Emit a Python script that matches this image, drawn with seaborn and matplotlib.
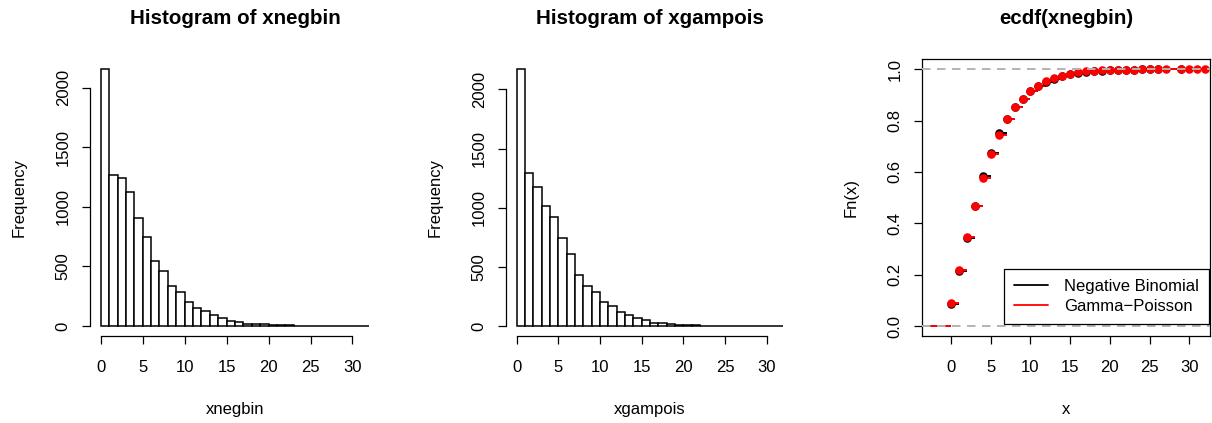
import numpy as np
import pandas as pd
import matplotlib
matplotlib.use("Agg")
import matplotlib.pyplot as plt
import seaborn as sns

# -----------------------------
# Data
# -----------------------------
bin_mids = np.arange(0, 32) + 0.5

negbin_counts = [2155, 1270, 1243, 1129, 903, 745, 548, 461, 334, 286,
                 200, 153, 125, 89, 70, 39, 36, 19, 17, 14,
                 8, 6, 5, 3, 2, 2, 1, 0, 4, 1, 0, 0]
gampois_counts = [2170, 1293, 1173, 1012, 920, 742, 609, 434, 336, 284,
                  200, 167, 120, 97, 70, 50, 28, 28, 17, 8,
                  8, 11, 4, 3, 2, 1, 1, 3, 0, 1, 1, 1]

# ecdf knots and values
negbin_knots = list(range(0, 27)) + [29]
negbin_F = [0.087, 0.215, 0.342, 0.466, 0.584, 0.675, 0.751, 0.806, 0.852, 0.886,
            0.916, 0.936, 0.952, 0.964, 0.974, 0.982, 0.987, 0.991, 0.993, 0.995,
            0.997, 0.998, 0.9985, 0.999, 0.9993, 0.9995, 0.9996, 1.0]
gampois_knots = list(range(0, 28)) + [29, 30, 31, 32]
gampois_F = [0.088, 0.218, 0.347, 0.468, 0.575, 0.669, 0.743, 0.805, 0.852, 0.886,
             0.917, 0.936, 0.953, 0.965, 0.975, 0.983, 0.988, 0.992, 0.994, 0.996,
             0.997, 0.998, 0.9985, 0.999, 0.9993, 0.9995, 0.9996, 0.9997, 0.9998,
             0.9999, 0.99995, 1.0]

sns.set_style("white")
plt.rcParams["font.family"] = ["Liberation Sans", "DejaVu Sans"]
plt.rcParams["text.color"] = "black"
plt.rcParams["axes.labelcolor"] = "black"

W, H = 1212, 423
fig = plt.figure(figsize=(W / 100, H / 100), dpi=100)

bottom = (H - 336.3) / H
height = 277.3 / H
ax1 = fig.add_axes([90 / W, bottom, 290 / W, height])
ax2 = fig.add_axes([506 / W, bottom, 288 / W, height])
ax3 = fig.add_axes([922 / W, bottom, 288 / W, height])

FS = 12
TICK_LEN = 5.8


def r_axes(ax, xb, yb):
    ax.tick_params(axis="both", direction="out", length=TICK_LEN, width=0.9,
                   labelsize=FS, colors="black", bottom=True, left=True)
    ax.tick_params(axis="x", pad=11)
    ax.tick_params(axis="y", pad=8, labelrotation=90)
    for lab in ax.get_yticklabels():
        lab.set_va("center")
    for s in ax.spines.values():
        s.set_color("black")
        s.set_linewidth(0.9)
    if xb is not None:
        ax.spines["bottom"].set_bounds(*xb)
        ax.spines["left"].set_bounds(*yb)
        ax.spines["top"].set_visible(False)
        ax.spines["right"].set_visible(False)


# -----------------------------
# Histograms
# -----------------------------
for ax, counts, name in [(ax1, negbin_counts, "xnegbin"), (ax2, gampois_counts, "xgampois")]:
    df = pd.DataFrame({"mid": bin_mids, "count": counts})
    sns.histplot(data=df, x="mid", weights="count", binwidth=1, binrange=(0, 32), ax=ax,
                 color="white", edgecolor="black", linewidth=1.1, alpha=1)
    ymax = max(counts)
    ax.set_xlim(-0.04 * 32, 32 * 1.04)
    ax.set_ylim(-0.04 * ymax, ymax * 1.04)
    ax.set_xticks(range(0, 31, 5))
    ax.set_yticks(range(0, 2001, 500))
    ax.set_title(f"Histogram of {name}", fontsize=14.8, fontweight="bold", pad=25)
    ax.set_xlabel(name, fontsize=FS, labelpad=20)
    ax.set_ylabel("Frequency", fontsize=FS, labelpad=21)
    r_axes(ax, (0, 30), (0, 2000))

# -----------------------------
# ECDF panel
# -----------------------------
xmin, xmax = -3.65, 32.6


def draw_ecdf(ax, knots, F, col):
    xs = [xmin] + list(knots)
    xe = list(knots) + [xmax]
    ys = [0.0] + list(F)
    ax.hlines(ys, xs, xe, colors=col, linewidth=1.4, zorder=3)
    sns.scatterplot(x=knots, y=F, ax=ax, color=col, s=38,
                    edgecolor=col, linewidth=0, zorder=4)
    ax.axhline(0, color="#b3b3b3", linestyle=(0, (5, 4)), linewidth=1.2, zorder=5)
    ax.axhline(1, color="#b3b3b3", linestyle=(0, (5, 4)), linewidth=1.2, zorder=5)


draw_ecdf(ax3, negbin_knots, negbin_F, "black")
draw_ecdf(ax3, gampois_knots, gampois_F, "red")
ax3.set_xlim(xmin, xmax)
ax3.set_ylim(-0.04, 1.04)
ax3.set_xticks(range(0, 31, 5))
ax3.set_yticks([0, 0.2, 0.4, 0.6, 0.8, 1.0])
ax3.set_yticklabels(["0.0", "0.2", "0.4", "0.6", "0.8", "1.0"])
ax3.set_title("ecdf(xnegbin)", fontsize=14.8, fontweight="bold", pad=25)
ax3.set_xlabel("x", fontsize=FS, labelpad=20)
ax3.set_ylabel("Fn(x)", fontsize=FS, labelpad=21)
r_axes(ax3, None, None)

h1, = ax3.plot([], [], color="black", linewidth=1.3, label="Negative Binomial")
h2, = ax3.plot([], [], color="red", linewidth=1.3, label="Gamma\u2212Poisson")
leg = ax3.legend(handles=[h1, h2], loc="lower right", bbox_to_anchor=(0.997, 0.044),
                 borderaxespad=0, fontsize=FS, frameon=True, fancybox=False,
                 handlelength=2.0, handletextpad=1.0, borderpad=0.6, labelspacing=0.3)
leg.get_frame().set_edgecolor("black")
leg.get_frame().set_linewidth(0.9)
leg.get_frame().set_alpha(1)

fig.savefig("out.png", dpi=100)
